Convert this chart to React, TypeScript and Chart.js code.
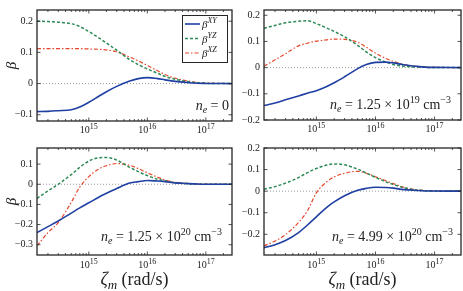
import React, { useEffect, useRef } from "react";
import { Chart, registerables } from "chart.js";

Chart.register(...registerables);

// ---------- data ----------
const zeta = [1.3e14, 2e14, 3e14, 5e14, 7e14, 1e15, 1.5e15, 2e15, 3e15, 5e15, 7e15, 1e16, 1.5e16, 2e16, 3e16, 5e16, 7e16, 1e17, 2.8e17];
const xMin = 1.3e14;
const xMax = 2.8e17;
const xTickValues = [1e15, 1e16, 1e17];
const xTickBase = "10";
const xTickExps = ["15", "16", "17"];
const minorMultipliers = [2, 3, 4, 5, 6, 7, 8, 9];
const decades = [1e14, 1e15, 1e16, 1e17];

const legendNames = ["XY", "YZ", "XZ"];
const yTitle = "β";
const xTitleMain = "ζ";
const xTitleSub = "m";
const xTitleUnit = " (rad/s)";

// (a) n_e = 0
const a_XY = [-0.090, -0.089, -0.087, -0.084, -0.075, -0.060, -0.040, -0.026, -0.009, 0.008, 0.016, 0.019, 0.016, 0.012, 0.007, 0.003, 0.001, 0.0005, 0];
const a_YZ = [0.200, 0.199, 0.197, 0.192, 0.183, 0.167, 0.146, 0.130, 0.107, 0.077, 0.061, 0.047, 0.033, 0.023, 0.014, 0.006, 0.003, 0.001, 0];
const a_XZ = [0.112, 0.112, 0.112, 0.112, 0.112, 0.111, 0.110, 0.108, 0.102, 0.085, 0.073, 0.058, 0.041, 0.029, 0.017, 0.008, 0.004, 0.002, 0];
const a_yTicks = [-0.1, 0, 0.1, 0.2];
const a_note = [{ t: "n", i: true }, { t: "e", k: "sub", i: true }, { t: " = 0" }];

// (b) n_e = 1.25e19
const b_XY = [-0.145, -0.135, -0.123, -0.108, -0.098, -0.088, -0.072, -0.058, -0.035, -0.004, 0.012, 0.020, 0.021, 0.018, 0.011, 0.005, 0.002, 0.001, 0];
const b_YZ = [0.150, 0.161, 0.171, 0.177, 0.179, 0.168, 0.151, 0.138, 0.118, 0.085, 0.060, 0.038, 0.021, 0.012, 0.005, 0.002, 0.001, 0, 0];
const b_XZ = [0.005, 0.030, 0.053, 0.083, 0.093, 0.101, 0.106, 0.109, 0.108, 0.097, 0.078, 0.055, 0.035, 0.024, 0.012, 0.004, 0.002, 0.001, 0];
const b_yTicks = [-0.2, -0.1, 0, 0.1, 0.2];
const b_note = [{ t: "n", i: true }, { t: "e", k: "sub", i: true }, { t: " = 1.25 × 10" }, { t: "19", k: "sup" }, { t: " cm" }, { t: "−3", k: "sup" }];

// (c) n_e = 1.25e20
const c_XY = [-0.240, -0.210, -0.182, -0.143, -0.117, -0.092, -0.063, -0.045, -0.021, 0.006, 0.013, 0.019, 0.016, 0.013, 0.007, 0.003, 0.001, 0, 0];
const c_YZ = [-0.070, -0.033, 0.000, 0.048, 0.084, 0.115, 0.132, 0.133, 0.120, 0.084, 0.063, 0.043, 0.025, 0.017, 0.008, 0.003, 0.001, 0, 0];
const c_XZ = [-0.305, -0.240, -0.190, -0.090, -0.014, 0.038, 0.077, 0.092, 0.103, 0.094, 0.078, 0.057, 0.035, 0.021, 0.010, 0.004, 0.002, 0.001, 0];
const c_yTicks = [-0.3, -0.2, -0.1, 0, 0.1];
const c_note = [{ t: "n", i: true }, { t: "e", k: "sub", i: true }, { t: " = 1.25 × 10" }, { t: "20", k: "sup" }, { t: " cm" }, { t: "−3", k: "sup" }];

// (d) n_e = 4.99e20
const d_XY = [-0.262, -0.248, -0.229, -0.192, -0.158, -0.119, -0.075, -0.050, -0.021, 0.004, 0.013, 0.018, 0.017, 0.014, 0.007, 0.003, 0.001, 0.0005, 0];
const d_YZ = [0.009, 0.021, 0.037, 0.063, 0.085, 0.105, 0.121, 0.126, 0.122, 0.102, 0.084, 0.064, 0.043, 0.031, 0.016, 0.005, 0.002, 0.001, 0];
const d_XZ = [-0.254, -0.231, -0.202, -0.145, -0.093, -0.008, 0.043, 0.066, 0.083, 0.092, 0.083, 0.067, 0.048, 0.035, 0.018, 0.006, 0.003, 0.001, 0];
const d_yTicks = [-0.2, -0.1, 0, 0.1, 0.2];
const d_note = [{ t: "n", i: true }, { t: "e", k: "sub", i: true }, { t: " = 4.99 × 10" }, { t: "20", k: "sup" }, { t: " cm" }, { t: "−3", k: "sup" }];

// ---------- style ----------
const FONT = '"Liberation Serif", "DejaVu Serif", serif';
const TEXT = "#222222";
const AXIS = "#262626";
const BLUE = "#1f3fa3";
const GREEN = "#2e8a55";
const RED = "#e5462a";
const ZERO = "#9a9a9a";

type Part = { t: string; k?: "sub" | "sup"; i?: boolean };

function drawRich(ctx: CanvasRenderingContext2D, parts: Part[], x: number, y: number, size: number, align: "left" | "center" | "right", ratio = 0.7) {
  const fontFor = (p: Part) => `${p.i ? "italic " : ""}${p.k ? Math.round(size * ratio) : size}px ${FONT}`;
  let total = 0;
  for (const p of parts) {
    ctx.font = fontFor(p);
    total += ctx.measureText(p.t).width;
  }
  let cx = align === "left" ? x : align === "right" ? x - total : x - total / 2;
  ctx.textAlign = "left";
  ctx.textBaseline = "alphabetic";
  for (const p of parts) {
    ctx.font = fontFor(p);
    const dy = p.k === "sup" ? -size * 0.42 : p.k === "sub" ? size * 0.22 : 0;
    ctx.fillText(p.t, cx, y + dy);
    cx += ctx.measureText(p.t).width;
  }
}

type PanelCfg = {
  left: number; top: number; w: number; h: number;
  yw: number; xh: number; pt: number; pr: number;
  yMin: number; yMax: number; yTicks: number[];
  xy: number[]; yz: number[]; xz: number[];
  note: Part[]; noteDx: number; noteDy: number; tickDy: number;
  legend: boolean; yTitle: boolean; xTitle: boolean;
};

const panels: PanelCfg[] = [
  { left: 0, top: 0, w: 233, h: 140, yw: 37, xh: 19, pt: 10, pr: 1, yMin: -0.12, yMax: 0.236, yTicks: a_yTicks, xy: a_XY, yz: a_YZ, xz: a_XZ, note: a_note, noteDx: 3, noteDy: 11, tickDy: 12, legend: true, yTitle: true, xTitle: false },
  { left: 233, top: 0, w: 230, h: 140, yw: 31, xh: 20, pt: 10, pr: 2, yMin: -0.2, yMax: 0.22, yTicks: b_yTicks, xy: b_XY, yz: b_YZ, xz: b_XZ, note: b_note, noteDx: 10, noteDy: 11, tickDy: 12, legend: false, yTitle: false, xTitle: false },
  { left: 0, top: 138, w: 233, h: 153, yw: 37, xh: 36, pt: 7, pr: 1, yMin: -0.351, yMax: 0.18, yTicks: c_yTicks, xy: c_XY, yz: c_YZ, xz: c_XZ, note: c_note, noteDx: 10, noteDy: 14, tickDy: 13, legend: false, yTitle: true, xTitle: true },
  { left: 233, top: 138, w: 230, h: 153, yw: 31, xh: 36, pt: 7, pr: 2, yMin: -0.296, yMax: 0.2, yTicks: d_yTicks, xy: d_XY, yz: d_YZ, xz: d_XZ, note: d_note, noteDx: 8, noteDy: 14, tickDy: 13, legend: false, yTitle: false, xTitle: true },
];

function fmt(v: number) {
  if (Math.abs(v) < 1e-9) return "0";
  return (v < 0 ? "−" : "") + Math.abs(v).toFixed(1);
}

function decorPlugin(p: PanelCfg) {
  return {
    id: "decor",
    afterDatasetsDraw(chart: any) {
      const { ctx, chartArea: ca, scales } = chart;
      const xs = scales.x;
      const ys = scales.y;
      ctx.save();
      // inward ticks
      ctx.strokeStyle = AXIS;
      ctx.lineWidth = 0.8;
      ctx.setLineDash([]);
      ctx.beginPath();
      for (const d of decades) {
        for (const m of [1, ...minorMultipliers]) {
          const v = m * d;
          if (v < xMin || v > xMax) continue;
          const px = xs.getPixelForValue(v);
          const len = m === 1 ? 3.5 : 2;
          ctx.moveTo(px, ca.bottom);
          ctx.lineTo(px, ca.bottom - len);
          ctx.moveTo(px, ca.top);
          ctx.lineTo(px, ca.top + len);
        }
      }
      for (const t of p.yTicks) {
        const py = ys.getPixelForValue(t);
        ctx.moveTo(ca.left, py);
        ctx.lineTo(ca.left + 3.5, py);
        ctx.moveTo(ca.right, py);
        ctx.lineTo(ca.right - 3.5, py);
      }
      ctx.stroke();
      // box
      ctx.lineWidth = 1.3;
      ctx.strokeRect(ca.left, ca.top, ca.right - ca.left, ca.bottom - ca.top);
      // x tick labels
      ctx.fillStyle = TEXT;
      xTickValues.forEach((v, i) => {
        const px = xs.getPixelForValue(v);
        drawRich(ctx, [{ t: xTickBase }, { t: xTickExps[i], k: "sup" }], px, ca.bottom + p.tickDy, 10, "center", 0.75);
      });
      // annotation
      drawRich(ctx, p.note, ca.right - p.noteDx, ca.bottom - p.noteDy, 14, "right");
      // y title
      if (p.yTitle) {
        ctx.save();
        ctx.translate(ca.left - 21, (ca.top + ca.bottom) / 2);
        ctx.rotate(-Math.PI / 2);
        ctx.font = `italic 15px ${FONT}`;
        ctx.textAlign = "center";
        ctx.textBaseline = "alphabetic";
        ctx.fillText(yTitle, 0, 0);
        ctx.restore();
      }
      // x title
      if (p.xTitle) {
        drawRich(ctx, [{ t: xTitleMain, i: true }, { t: xTitleSub, k: "sub", i: true }, { t: xTitleUnit }], (ca.left + ca.right) / 2, ca.bottom + 30, 18, "center", 0.72);
      }
      // legend
      if (p.legend) {
        const bw = 45, bh = 47;
        const bx = ca.right - 5 - bw, by = ca.top + 5;
        ctx.fillStyle = "#ffffff";
        ctx.fillRect(bx, by, bw, bh);
        ctx.strokeStyle = AXIS;
        ctx.lineWidth = 1;
        ctx.strokeRect(bx + 0.5, by + 0.5, bw, bh);
        chart.data.datasets.slice(0, 3).forEach((ds: any, i: number) => {
          const ly = by + 9 + i * 14.5;
          ctx.strokeStyle = ds.borderColor;
          ctx.lineWidth = ds.borderWidth;
          ctx.setLineDash(ds.borderDash || []);
          ctx.beginPath();
          ctx.moveTo(bx + 3, ly);
          ctx.lineTo(bx + 18, ly);
          ctx.stroke();
          ctx.setLineDash([]);
          ctx.fillStyle = TEXT;
          drawRich(ctx, [{ t: "β", i: true }, { t: ds.label, k: "sup", i: true }], bx + 20, ly + 4, 11, "left", 0.72);
        });
      }
      ctx.restore();
    },
  };
}

function buildConfig(p: PanelCfg): any {
  const pts = (arr: number[]) => zeta.map((x, i) => ({ x, y: arr[i] }));
  const common = { pointRadius: 0, fill: false, cubicInterpolationMode: "monotone" };
  return {
    type: "line",
    data: {
      datasets: [
        { ...common, label: legendNames[0], data: pts(p.xy), borderColor: BLUE, borderWidth: 1.6 },
        { ...common, label: legendNames[1], data: pts(p.yz), borderColor: GREEN, borderWidth: 1.5, borderDash: [3, 2] },
        { ...common, label: legendNames[2], data: pts(p.xz), borderColor: RED, borderWidth: 1.2, borderDash: [4, 2, 1.5, 2] },
        { ...common, label: "zero", data: [{ x: xMin, y: 0 }, { x: xMax, y: 0 }], borderColor: ZERO, borderWidth: 1, borderDash: [1, 2] },
      ],
    },
    options: {
      responsive: false,
      animation: false,
      events: [],
      layout: { padding: { top: p.pt, right: p.pr, left: 0, bottom: 0 } },
      plugins: { legend: { display: false }, tooltip: { enabled: false }, title: { display: false } },
      scales: {
        x: {
          type: "logarithmic",
          min: xMin,
          max: xMax,
          grid: { display: false, drawTicks: false },
          border: { display: false },
          ticks: { display: false },
          afterBuildTicks: (s: any) => { s.ticks = xTickValues.map((v) => ({ value: v })); },
          afterFit: (s: any) => { s.height = p.xh; },
        },
        y: {
          type: "linear",
          min: p.yMin,
          max: p.yMax,
          grid: { display: false, drawTicks: false },
          border: { display: false },
          ticks: { font: { family: FONT, size: 10 }, color: TEXT, padding: 4, callback: (v: number) => fmt(v), autoSkip: false },
          afterBuildTicks: (s: any) => { s.ticks = p.yTicks.map((v) => ({ value: v })); },
          afterFit: (s: any) => { s.width = p.yw; },
        },
      },
    },
    plugins: [decorPlugin(p)],
  };
}

function Panel({ cfg }: { cfg: PanelCfg }) {
  const ref = useRef<HTMLCanvasElement>(null);
  useEffect(() => {
    const chart = new Chart(ref.current as HTMLCanvasElement, buildConfig(cfg));
    return () => chart.destroy();
  }, [cfg]);
  return (
    <canvas
      ref={ref}
      width={cfg.w}
      height={cfg.h}
      style={{ position: "absolute", left: cfg.left, top: cfg.top, width: cfg.w, height: cfg.h }}
    />
  );
}

export default function App() {
  return (
    <div style={{ position: "fixed", left: 0, top: 0, width: 463, height: 291, background: "#ffffff", overflow: "hidden" }}>
      {panels.map((p, i) => (
        <Panel key={i} cfg={p} />
      ))}
    </div>
  );
}
